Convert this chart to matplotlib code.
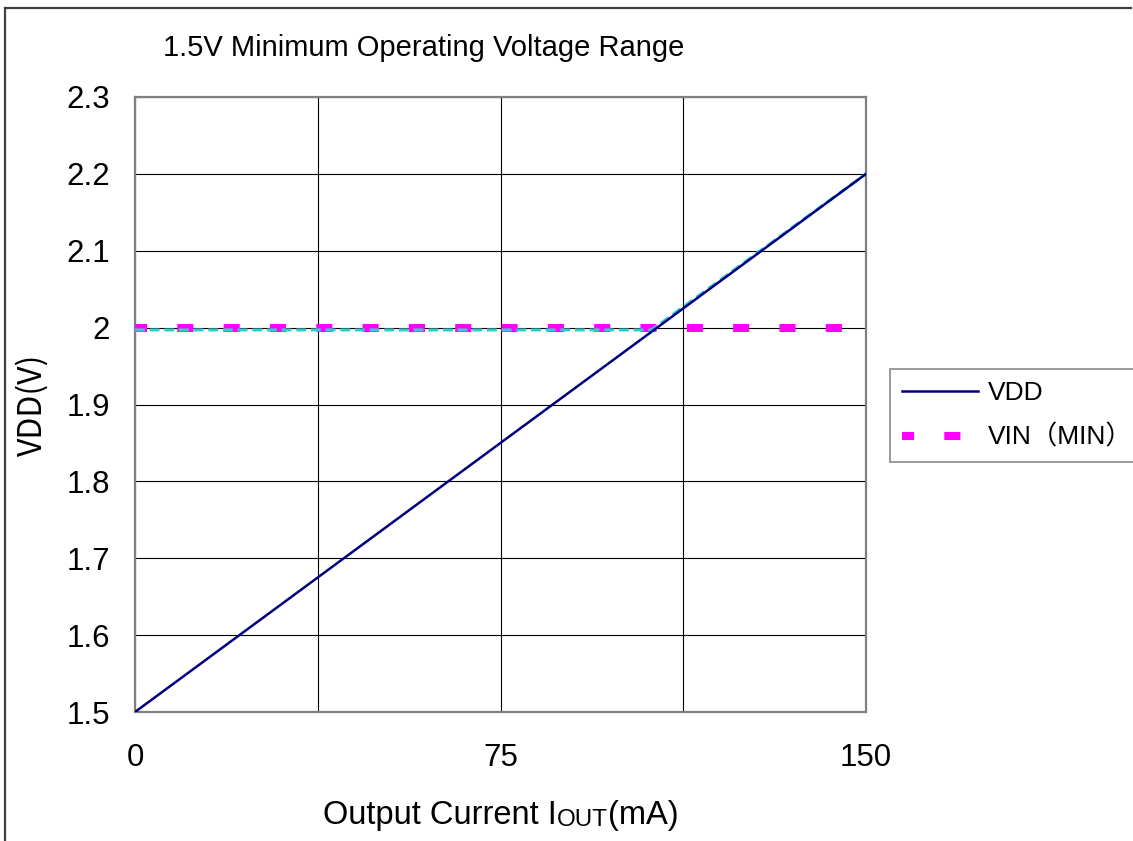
import matplotlib
matplotlib.use("Agg")
import matplotlib.pyplot as plt
from matplotlib.lines import Line2D

# ----------------------------------------------------------------------
# Data
# ----------------------------------------------------------------------
iout = [0, 150]                 # mA
vdd = [1.5, 2.2]                # V, VDD line
vin_min = [2.0, 2.0]            # V, VIN(MIN) line
limit_x = [0, 106.0, 150]       # cyan dashed envelope
limit_y = [1.997, 1.997, 2.2]

x_ticks = [0, 75, 150]
x_grid = [0, 37.5, 75, 112.5, 150]
y_ticks = [1.5, 1.6, 1.7, 1.8, 1.9, 2.0, 2.1, 2.2, 2.3]
y_ticklabels = ["1.5", "1.6", "1.7", "1.8", "1.9", "2", "2.1", "2.2", "2.3"]

W, H = 1133, 841
FONT = ["Liberation Sans", "Noto Sans CJK JP", "DejaVu Sans"]
plt.rcParams["font.family"] = FONT

fig = plt.figure(figsize=(W / 100, H / 100), dpi=100)

# outer chart frame (only left and top edges are visible)
fig.add_artist(Line2D([5.5 / W, 5.5 / W], [0, 1 - 7.5 / H],
                      transform=fig.transFigure, color="#404040", lw=1.6))
fig.add_artist(Line2D([5.5 / W, 1131 / W], [1 - 7.5 / H, 1 - 7.5 / H],
                      transform=fig.transFigure, color="#404040", lw=1.6))

ax = fig.add_axes([135 / W, 1 - 712 / H, 731 / W, 615 / H])
ax.set_xlim(0, 150)
ax.set_ylim(1.5, 2.3)

for xv in x_grid:
    ax.axvline(xv, color="black", lw=0.8, zorder=1)
for yv in y_ticks:
    ax.axhline(yv, color="black", lw=0.8, zorder=1)

for s in ax.spines.values():
    s.set_color("#808080")
    s.set_linewidth(1.6)
    s.set_zorder(2)

ax.set_xticks(x_ticks)
ax.set_xticklabels([str(v) for v in x_ticks], fontsize=22.5)
ax.set_yticks(y_ticks)
ax.set_yticklabels(y_ticklabels, fontsize=22.5)
ax.tick_params(axis="both", length=0)
ax.tick_params(axis="x", pad=22)
ax.tick_params(axis="y", pad=18)

ax.plot(iout, vin_min, color="#ff00ff", lw=5.8,
        linestyle=(0.5, (2.0, 3.75)),
        dash_capstyle="butt", solid_capstyle="butt", clip_on=False,
        zorder=3, label="VIN\uff08MIN\uff09")
ax.plot(limit_x, limit_y, color="#33cccc", lw=2.2, dashes=(3.2, 1.6),
        zorder=4)
ax.plot(iout, vdd, color="#000080", lw=1.8, zorder=5, label="VDD")

# title
fig.text(163 / W, 1 - 48 / H, "1.5V Minimum Operating Voltage Range",
         fontsize=21, ha="left", va="center")

# y label
fig.text(32 / W, 1 - 405 / H, "VDD(V)", rotation=90, fontsize=23,
         ha="center", va="center", family=["Noto Sans CJK JP"])

# x label with small-caps "OUT"
t1 = fig.text(323 / W, 1 - 824 / H, "Output Current I", fontsize=23.5,
              ha="left", va="baseline")
t2 = ax.annotate("OUT", xy=(1, 0), xycoords=t1, fontsize=17.5,
                 ha="left", va="bottom")
ax.annotate("(mA)", xy=(1, 0), xycoords=t2, fontsize=23.5,
            ha="left", va="bottom")

# legend
h, l = ax.get_legend_handles_labels()
leg = fig.legend([h[1], h[0]], [l[1], l[0]],
                 loc="upper left", bbox_to_anchor=(890 / W, 1 - 369 / H),
                 fontsize=19, frameon=True, fancybox=False,
                 handlelength=2.9, handletextpad=0.35, labelspacing=0.75,
                 borderpad=0.45, borderaxespad=0)
leg.get_frame().set_edgecolor("#808080")
leg.get_frame().set_linewidth(1.4)

fig.savefig("out.png", dpi=100)
